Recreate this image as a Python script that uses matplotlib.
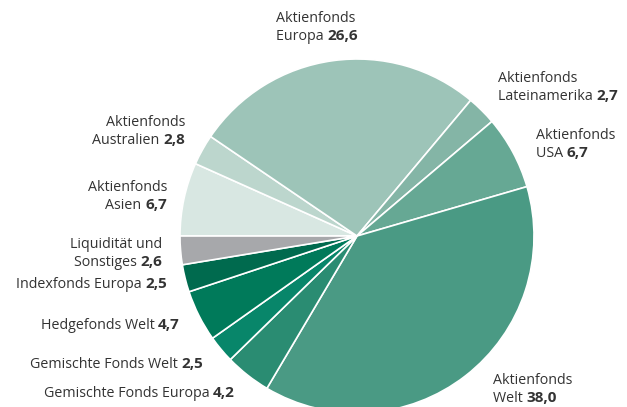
import matplotlib
matplotlib.use("Agg")
import matplotlib.pyplot as plt

# order clockwise, starting at 9 o'clock
labels = [
    ["Aktienfonds", "Asien"],
    ["Aktienfonds", "Australien"],
    ["Aktienfonds", "Europa"],
    ["Aktienfonds", "Lateinamerika"],
    ["Aktienfonds", "USA"],
    ["Aktienfonds", "Welt"],
    ["Gemischte Fonds Europa"],
    ["Gemischte Fonds Welt"],
    ["Hedgefonds Welt"],
    ["Indexfonds Europa"],
    ["Liquidität und", "Sonstiges"],
]
values = [6.7, 2.8, 26.6, 2.7, 6.7, 38.0, 4.2, 2.5, 4.7, 2.5, 2.6]
colors = ["#d8e7e2", "#bcd6cd", "#9dc4b8", "#84b5a6", "#66a894", "#4a9a84",
          "#2a8c72", "#08866a", "#007a5a", "#006a4e", "#a7a8ab"]

# label anchor in pixels (x, y of first line), alignment
label_pos = [
    (167, 186, "right"),
    (185, 121, "right"),
    (276, 17, "left"),
    (498, 77, "left"),
    (536, 134, "left"),
    (493, 379, "left"),
    (235, 392, "right"),
    (203, 363, "right"),
    (180, 324, "right"),
    (167, 283, "right"),
    (162, 243, "right"),
]

W, H = 627, 407
fig = plt.figure(figsize=(W / 100, H / 100), dpi=100)
ax = fig.add_axes([0, 0, 1, 1])
ax.set_xlim(0, W)
ax.set_ylim(0, H)
ax.set_aspect("equal")
ax.axis("off")

ax.pie(values, colors=colors, startangle=180, counterclock=False,
       center=(357, H - 236), radius=177,
       wedgeprops=dict(edgecolor="white", linewidth=1.2))
ax.set_xlim(0, W)
ax.set_ylim(0, H)

fig.canvas.draw()
renderer = fig.canvas.get_renderer()
tc = "#333333"
fam = ["Open Sans", "DejaVu Sans"]
fs = 10.3
fs_num = 11
lh = 18

for lines, v, (x, y, ha) in zip(labels, values, label_pos):
    num = f"{v:.1f}".replace(".", ",")
    for i, line in enumerate(lines):
        yy = H - (y + i * lh + 5)
        last = i == len(lines) - 1
        if not last:
            ax.text(x, yy, line, ha=ha, va="baseline", fontsize=fs, color=tc, family=fam)
            continue
        if ha == "right":
            t = ax.text(x, yy, num, ha="right", va="baseline", fontsize=fs_num,
                        color=tc, family=fam, fontweight="bold")
            bb = t.get_window_extent(renderer)
            x0 = ax.transData.inverted().transform((bb.x0, 0))[0]
            ax.text(x0, yy, line + " ", ha="right", va="baseline", fontsize=fs,
                    color=tc, family=fam)
        else:
            t = ax.text(x, yy, line + " ", ha="left", va="baseline", fontsize=fs,
                        color=tc, family=fam)
            bb = t.get_window_extent(renderer)
            x1 = ax.transData.inverted().transform((bb.x1, 0))[0]
            ax.text(x1, yy, num, ha="left", va="baseline", fontsize=fs_num,
                    color=tc, family=fam, fontweight="bold")

fig.savefig("out.png", dpi=100)
